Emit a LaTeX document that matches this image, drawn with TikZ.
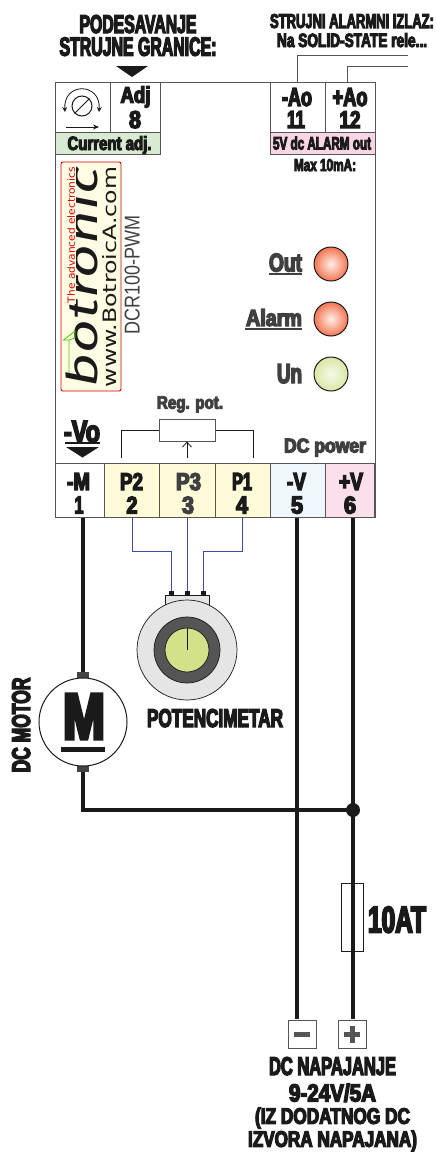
\documentclass[tikz,border=0pt]{standalone}
\usepackage{fontspec}
\usepackage{graphicx}
\usetikzlibrary{arrows.meta}
\newfontfamily\imp[UprightFont=* Bold,FakeBold=5,FakeStretch=0.7]{Liberation Sans}
\newfontfamily\thin{DejaVu Sans}
\newfontfamily\narrow{Liberation Sans}
\newfontfamily\logof[UprightFont=* Italic]{Fira Sans}
\newcommand{\fit}[3]{\raisebox{0pt}[\height][0pt]{\resizebox{#1pt}{#2pt}{#3}}}
\newcommand{\fitt}[3]{\resizebox*{#1pt}{#2pt}{#3}}
\definecolor{ink}{HTML}{1A1A1A}
\definecolor{gtxt}{HTML}{404040}
\definecolor{edge}{HTML}{555555}
\definecolor{creamT}{HTML}{FFFBD9}
\definecolor{blueT}{HTML}{EFF7FD}
\definecolor{pinkT}{HTML}{FBDFEB}
\definecolor{pinkS}{HTML}{F9D5E5}
\definecolor{greenS}{HTML}{D9EAD3}
\definecolor{wireB}{HTML}{3F4BA8}
\definecolor{knob}{HTML}{D3E288}
\definecolor{ledRi}{HTML}{FFEFE9}
\definecolor{ledRo}{HTML}{F47A58}
\definecolor{ledGi}{HTML}{F4F9E6}
\definecolor{ledGo}{HTML}{DCE8A8}
\pgfdeclareradialshading{ledred}{\pgfpointorigin}{color(0bp)=(ledRi); color(24bp)=(ledRo); color(100bp)=(ledRo)}
\pgfdeclareradialshading{ledgreen}{\pgfpointorigin}{color(0bp)=(ledGi); color(24bp)=(ledGo); color(100bp)=(ledGo)}
\tikzset{
 lbl/.style={inner sep=0pt,outer sep=0pt,font=\imp\fontsize{20}{22}\selectfont,text=ink},
 glbl/.style={lbl,text=gtxt},
 term/.style={draw=edge,line width=1pt,inner sep=0pt,outer sep=0pt},
 power/.style={draw=ink,line width=3.4pt},
 bluew/.style={draw=wireB,line width=1pt},
 led/.style={circle,draw=ink,line width=1pt,minimum size=34pt,inner sep=0pt},
 solid box/.style={fill=#1,draw=none,inner sep=0pt,outer sep=0pt}
}
\begin{document}
\begin{tikzpicture}[x=1pt,y=-1pt]
\useasboundingbox (0,0) rectangle (436,1152);
\fill[white] (0,0) rectangle (436,1152);

% main case
\node[draw=edge,line width=1pt,fill=white,minimum width=320pt,minimum height=435pt,inner sep=0pt] (case) at (215,300) {};

% top terminals
\node[term,fill=white,minimum width=55pt,minimum height=50pt] (tIcon) at (82.5,107) {};
\node[term,fill=white,minimum width=50pt,minimum height=50pt] (tAdj) at (135,107) {};
\node[term,fill=greenS,minimum width=105pt,minimum height=22pt] (sAdj) at (107.5,143) {};
\node[term,fill=white,minimum width=55pt,minimum height=50pt] (t11) at (297.5,107) {};
\node[term,fill=white,minimum width=50pt,minimum height=50pt] (t12) at (350,107) {};
\node[term,fill=pinkS,minimum width=105pt,minimum height=22pt] (sAl) at (322.5,143) {};

% bottom terminals
\node[term,fill=white,minimum width=49pt,minimum height=54pt] (t1) at (79.5,490.5) {};
\node[term,fill=creamT,minimum width=55pt,minimum height=54pt] (t2) at (131.5,490.5) {};
\node[term,fill=creamT,minimum width=56pt,minimum height=54pt] (t3) at (187,490.5) {};
\node[term,fill=creamT,minimum width=55pt,minimum height=54pt] (t4) at (242.5,490.5) {};
\node[term,fill=blueT,minimum width=55pt,minimum height=54pt] (t5) at (297.5,490.5) {};
\node[term,fill=pinkT,minimum width=49pt,minimum height=54pt] (t6) at (349.5,490.5) {};

% labels: heading
\node[lbl] (h1) at (138,24) {\fit{117}{18}{PODESAVANJE}};
\node[lbl] (h2) at (138,46.5) {\fit{157}{18.5}{STRUJNE GRANICE:}};
\node[lbl] (h3) at (352,21) {\fit{164}{14}{STRUJNI ALARMNI IZLAZ:}};
\node[lbl] (h4) at (352,40) {\fit{150}{14}{Na SOLID-STATE rele...}};
\fill[ink] (116,66) -- (148,66) -- (132,77) -- cycle;

% alarm wires
\coordinate (a1) at (297,82);
\coordinate (a2) at (347,82);
\coordinate (a1e) at (408,55);
\coordinate (a2e) at (408,66);
\draw[edge,line width=1pt] (a1) |- (a1e);
\draw[edge,line width=1pt] (a2) |- (a2e);

% adj icon
\node[circle,draw=ink,line width=1pt,minimum size=20pt,inner sep=0pt] (screw) at (82,106) {};
\draw[ink,line width=.9pt] (screw.225) -- (screw.45);
\draw[ink,line width=.8pt,{Stealth[length=5pt,width=5pt]}-{Stealth[length=5pt,width=5pt]}] (65,112) .. controls (63,82) and (101,82) .. (99,112);
\coordinate (ar1) at (66,127);
\coordinate (ar2) at (99,127);
\draw[ink,line width=.7pt,-{Stealth[length=6pt,width=5pt]}] (ar1) -- (ar2);

% terminal labels top
\node[lbl] (lAdj) at (135.5,94.5) {\fit{30}{16.5}{Adj}};
\node[lbl] (l8) at (135,119.5) {\fit{12}{17}{8}};
\node[lbl] (lCur) at (109.5,143) {\fit{84}{14}{Current adj.}};
\node[lbl] (lAo1) at (297,97) {\fit{30}{18}{-Ao}};
\node[lbl] (l11) at (296,119.5) {\fit{18}{17}{11}};
\node[lbl] (lAo2) at (350,97) {\fit{35}{18}{+Ao}};
\node[lbl] (l12) at (350,119.5) {\fit{21}{17}{12}};
\node[lbl] (l5V) at (322,143) {\fit{98}{13}{5V dc ALARM out}};
\node[lbl] (lMax) at (325,165) {\fit{62}{12}{Max 10mA:}};

% logo
\node[draw=red!85!black,line width=.9pt,fill=creamT!70!white,rounded corners=2pt,minimum width=60pt,minimum height=229pt,inner sep=0pt] (logo) at (91,276.5) {};
\node[inner sep=0pt,rotate=90,text=ink,font=\logof\fontsize{20}{22}\selectfont] (lg2) at (81,277) {\fit{221}{33}{botronic}};
\fill[creamT!70!white] (64,164) rectangle (76,304);
\draw[green!70!black!70!yellow,line width=.8pt] (69,373) -- (69,340) -- (63.5,340) -- (75,331) -- (75,338) -- (69,340);
\node[inner sep=0pt,rotate=90,text=red!85!black,font=\thin] (lg1) at (71,235) {\fit{136}{7.5}{The advanced electronics}};
\node[inner sep=0pt,rotate=90,text=ink,font=\thin] (lg3) at (109,277) {\fit{220}{14}{www.BotroicA.com}};
\node[inner sep=0pt,rotate=90,text=gtxt,font=\narrow] (lg4) at (132,274.5) {\fit{119}{15}{DCR100-PWM}};

% LEDs
\node[led,shading=ledred] (ledO) at (331,264) {};
\node[led,shading=ledred] (ledA) at (331,319) {};
\node[led,shading=ledgreen] (ledU) at (331,374) {};
\node[glbl] (lOut) at (285.5,262.5) {\fit{33}{18}{Out}};
\node[glbl] (lAl) at (274,317.5) {\fit{56}{17}{Alarm}};
\node[glbl] (lUn) at (289.5,373.5) {\fit{25}{19}{Un}};
\coordinate (u1a) at (269,274);\coordinate (u1b) at (302,274);
\coordinate (u2a) at (245,329);\coordinate (u2b) at (302,329);
\draw[gtxt,line width=2pt] (u1a) -- (u1b);
\draw[gtxt,line width=2pt] (u2a) -- (u2b);

% reg pot
\node[glbl] (lReg) at (190,402.5) {\fit{66}{12.5}{Reg. pot.}};
\node[draw=edge,line width=1pt,fill=white,minimum width=56pt,minimum height=22pt,inner sep=0pt] (rp) at (187,430) {};
\coordinate (rp1) at (121,458);
\coordinate (rp2) at (253,458);
\coordinate (rp3) at (187,458);
\draw[ink,line width=.8pt] (rp1) |- (rp.west);
\draw[ink,line width=.8pt] (rp2) |- (rp.east);
\draw[ink,line width=.8pt,-{Straight Barb[length=5pt,width=9pt]}] (rp3) -- (rp.south);

% -Vo and DC power
\node[lbl] (lVo) at (82,431.5) {\fit{36}{21}{-Vo}};
\coordinate (v1) at (65,443);\coordinate (v2) at (100,443);
\draw[ink,line width=1.5pt] (v1) -- (v2);
\fill[ink] (66,447) -- (99,447) -- (82.5,457.5) -- cycle;
\node[glbl] (lDC) at (325,445.5) {\fit{82}{14}{DC power}};

% bottom terminal labels
\node[lbl] (b1) at (78.5,481.5) {\fit{23}{17}{-M}};
\node[lbl] (b1n) at (79,505) {\fit{9}{17}{1}};
\node[lbl] (b2) at (131.5,481.5) {\fit{23}{17}{P2}};
\node[lbl] (b2n) at (132,505) {\fit{11}{17}{2}};
\node[glbl] (b3) at (188.5,481.5) {\fit{25}{17}{P3}};
\node[glbl] (b3n) at (188,505) {\fit{12}{17}{3}};
\node[lbl] (b4) at (242,481.5) {\fit{20}{17}{P1}};
\node[lbl] (b4n) at (242,505) {\fit{12}{17}{4}};
\node[lbl] (b5) at (296.5,481.5) {\fit{19}{17}{-V}};
\node[lbl] (b5n) at (297,505) {\fit{12}{17}{5}};
\node[lbl] (b6) at (351,481.5) {\fit{24}{17}{+V}};
\node[lbl] (b6n) at (350,505) {\fit{12}{17}{6}};

% pot wires
\coordinate (pw2) at (132,518);\coordinate (pw3) at (187,518);\coordinate (pw4) at (242,518);
\coordinate (pb2) at (171,591);\coordinate (pb3) at (187,591);\coordinate (pb4) at (203,591);
\draw[bluew] (pw2) |- (171,551) -- (pb2);
\draw[bluew] (pw3) -- (pb3);
\draw[bluew] (pw4) |- (203,551) -- (pb4);
\foreach \n/\x in {a/171,b/187,c/203}{
 \node[solid box=ink,minimum width=5pt,minimum height=5pt] (pin\n) at (\x,593) {};
}
\node[draw=ink,line width=.7pt,fill=black!10,minimum width=44pt,minimum height=20pt,inner sep=0pt] (ptab) at (187,605) {};
\node[circle,draw=ink,line width=.7pt,fill=black!10,minimum size=100pt,inner sep=0pt] (pot) at (187,650) {};
\node[circle,draw=ink,line width=.7pt,fill=edge,minimum size=66pt,inner sep=0pt] (potr) at (187,650) {};
\node[circle,draw=ink,line width=.7pt,fill=knob,minimum size=44pt,inner sep=0pt] (potk) at (187,650) {};
\draw[ink,line width=.8pt] (potk.north) -- (potk.center);
\node[lbl] (lPot) at (215,718) {\fit{136}{18}{POTENCIMETAR}};

% power wiring
\coordinate (w1) at (83,518);
\coordinate (w5) at (297,518);
\coordinate (w6) at (353,518);
\coordinate (j) at (353,810);
\node[solid box=edge!80!black,minimum width=12pt,minimum height=6pt] (mt) at (83,675) {};
\node[solid box=edge!80!black,minimum width=12pt,minimum height=6pt] (mb) at (83,769) {};
\node[draw=edge,line width=1pt,fill=white,rectangle,minimum width=28pt,minimum height=28pt,inner sep=0pt] (bm) at (302,1034) {};
\node[draw=edge,line width=1pt,fill=white,rectangle,minimum width=28pt,minimum height=28pt,inner sep=0pt] (bp) at (352,1034) {};
\draw[power] (w1) -- (mt);
\draw[power] (mb) |- (j);
\draw[power] (w5) -- (297,1019);
\draw[power] (w6) -- (353,1019);
\node[circle,fill=ink,minimum size=14pt,inner sep=0pt] (jn) at (j) {};
\node[circle,draw=ink,line width=1pt,fill=white,minimum size=88pt,inner sep=0pt] (motor) at (83,722) {};
\node[lbl] (lM) at (84,716.5) {\fit{42}{45}{M}};
\coordinate (mu1) at (61,749.5);\coordinate (mu2) at (105,749.5);
\draw[ink,line width=5pt] (mu1) -- (mu2);
\node[lbl,rotate=90] (lMot) at (21,725) {\fit{95}{18}{DC MOTOR}};

% fuse
\node[draw=ink,line width=.8pt,minimum width=22pt,minimum height=68pt,inner sep=0pt] (fuse) at (352,917) {};
\node[lbl] (lF) at (397,919.5) {\fit{58}{26}{10AT}};

% supply symbols
\fill[edge] (294,1032) rectangle (310,1037);
\fill[edge] (344,1032) rectangle (360,1037);
\fill[edge] (349.5,1026) rectangle (354.5,1043);

% bottom text
\node[lbl] (s1) at (332.5,1066) {\fit{127}{18}{DC NAPAJANJE}};
\node[lbl] (s2) at (332.5,1092.5) {\fit{87}{18}{9-24V/5A}};
\node[lbl] (s3) at (332.5,1118) {\fitt{155}{21}{(IZ DODATNOG DC}};
\node[lbl] (s4) at (332.5,1141) {\fitt{169}{21}{IZVORA NAPAJANA)}};
\end{tikzpicture}
\end{document}
